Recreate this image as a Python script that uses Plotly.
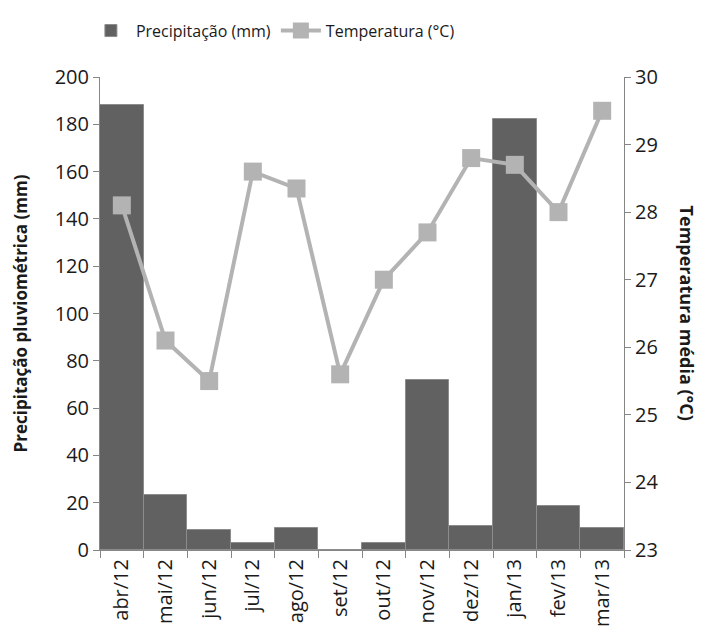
import plotly.graph_objects as go

months = ["abr/12", "mai/12", "jun/12", "jul/12", "ago/12", "set/12",
          "out/12", "nov/12", "dez/12", "jan/13", "fev/13", "mar/13"]
precip_mm = [188.1, 23.1, 8.4, 3.1, 9.4, 0, 3.0, 71.7, 10.2, 182.2, 18.5, 9.3]
temp_c = [28.1, 26.1, 25.5, 28.6, 28.35, 25.6, 27.0, 27.7, 28.8, 28.7, 28.0, 29.5]

left_ticks = list(range(0, 201, 20))
right_ticks = list(range(23, 31))

FONT = "Open Sans"
AX = "#868686"

fig = go.Figure()
fig.add_trace(go.Bar(
    x=months, y=precip_mm, name="Precipitação (mm)",
    marker=dict(color="#616161", line=dict(color="#8c8c8c", width=1)),
    yaxis="y",
))
fig.add_trace(go.Scatter(
    x=months, y=temp_c, name="Temperatura (°C)", mode="lines+markers",
    line=dict(color="#b3b3b3", width=4),
    marker=dict(symbol="square", size=18, color="#b3b3b3"),
    yaxis="y2",
))

fig.update_layout(
    width=705, height=639,
    margin=dict(l=100, r=81, t=77, b=86),
    paper_bgcolor="white", plot_bgcolor="white",
    font=dict(family=FONT, color="#1a1a1a"),
    bargap=0,
    showlegend=True,
    legend=dict(orientation="h", x=0.33, xanchor="center", y=1.098, yanchor="middle",
                font=dict(size=16, family=FONT), traceorder="normal",
                itemwidth=40),
    xaxis=dict(type="category", range=[-0.5, 11.5], showline=True, linecolor=AX,
               linewidth=1, ticks="outside", tickson="boundaries", ticklen=7,
               tickcolor=AX, tickangle=-90, tickfont=dict(size=20, family=FONT),
               showgrid=False, zeroline=False),
    yaxis=dict(range=[0, 200], tickvals=left_ticks, showline=True, linecolor=AX,
               linewidth=1, ticks="outside", ticklen=6, tickcolor=AX,
               tickfont=dict(size=20, family=FONT), showgrid=False, zeroline=False),
    yaxis2=dict(range=[23, 30], tickvals=right_ticks, overlaying="y", side="right",
                showline=True, linecolor=AX, linewidth=1, ticks="outside", ticklen=6,
                tickcolor=AX, tickfont=dict(size=20, family=FONT), showgrid=False,
                zeroline=False),
    annotations=[
        dict(text="<b>Precipitação pluviométrica (mm)</b>", xref="paper", yref="paper",
             x=-0.151, y=0.5, xanchor="center", yanchor="middle", textangle=-90,
             showarrow=False, font=dict(size=17, family=FONT)),
        dict(text="<b>Temperatura média (°C)</b>", xref="paper", yref="paper",
             x=1.122, y=0.5, xanchor="center", yanchor="middle", textangle=90,
             showarrow=False, font=dict(size=18, family=FONT)),
    ],
)

fig.write_html("out.html")
